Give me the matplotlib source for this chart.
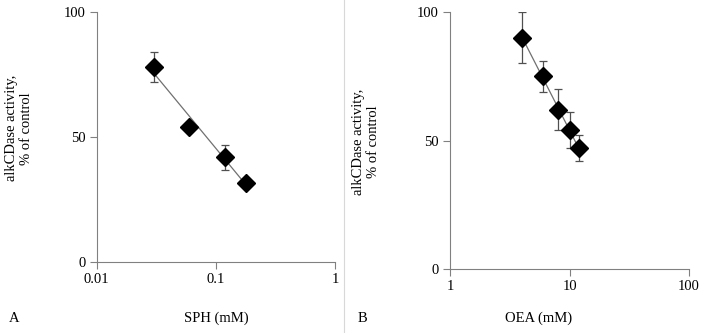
import matplotlib.pyplot as plt
import numpy as np

plt.rcParams['font.family'] = ['Liberation Serif', 'DejaVu Serif']
plt.rcParams['font.size'] = 10.5

# panel A data
sph_x = [0.03, 0.06, 0.12, 0.18]
sph_y = [78, 54, 42, 31.5]
sph_err = [6, 0, 5, 0]

# panel B data
oea_x = [4, 6, 8, 10, 12]
oea_y = [90, 75, 62, 54, 47]
oea_err = [10, 6, 8, 7, 5]

fig = plt.figure(figsize=(7.01, 3.33), dpi=100)

axA = fig.add_axes([0.138, 0.213, 0.340, 0.751])
axB = fig.add_axes([0.642, 0.192, 0.341, 0.772])


def draw(ax, x, y, err, xlim, xticks, xticklabels):
    # trend line (log fit)
    k, b = np.polyfit(np.log10(x), y, 1)
    xs = np.array([min(x), max(x)])
    ax.plot(xs, k * np.log10(xs) + b, color='#707070', lw=0.9, zorder=1)
    ax.errorbar(x, y, yerr=err, fmt='none', ecolor='#505050', elinewidth=0.9,
                capsize=3, capthick=0.9, zorder=2)
    ax.plot(x, y, 'D', color='black', ms=9, zorder=3)
    ax.set_xscale('log')
    ax.set_xlim(*xlim)
    ax.set_ylim(0, 100)
    ax.set_xticks(xticks)
    ax.set_xticklabels(xticklabels)
    ax.minorticks_off()
    ax.set_yticks([0, 50, 100])
    for s in ['top', 'right']:
        ax.spines[s].set_visible(False)
    for s in ['left', 'bottom']:
        ax.spines[s].set_color('#808080')
    ax.tick_params(color='#808080', length=5, width=0.8, pad=3)


draw(axA, sph_x, sph_y, sph_err, (0.01, 1), [0.01, 0.1, 1], ['0.01', '0.1', '1'])
draw(axB, oea_x, oea_y, oea_err, (1, 100), [1, 10, 100], ['1', '10', '100'])

ylab = 'alkCDase activity,\n% of control'
fig.text(0.027, 0.615, ylab, rotation=90, ha='center', va='center', multialignment='center')
fig.text(0.522, 0.575, ylab, rotation=90, ha='center', va='center', multialignment='center')

fig.text(0.013, 0.045, 'A', ha='left', va='center')
fig.text(0.308, 0.045, 'SPH (mM)', ha='center', va='center')
fig.text(0.51, 0.045, 'B', ha='left', va='center')
fig.text(0.768, 0.045, 'OEA (mM)', ha='center', va='center')

fig.add_artist(plt.Line2D([0.491, 0.491], [0.0, 1.0], color='#d8d8d8', lw=0.8))

plt.savefig('out.png', dpi=100)
